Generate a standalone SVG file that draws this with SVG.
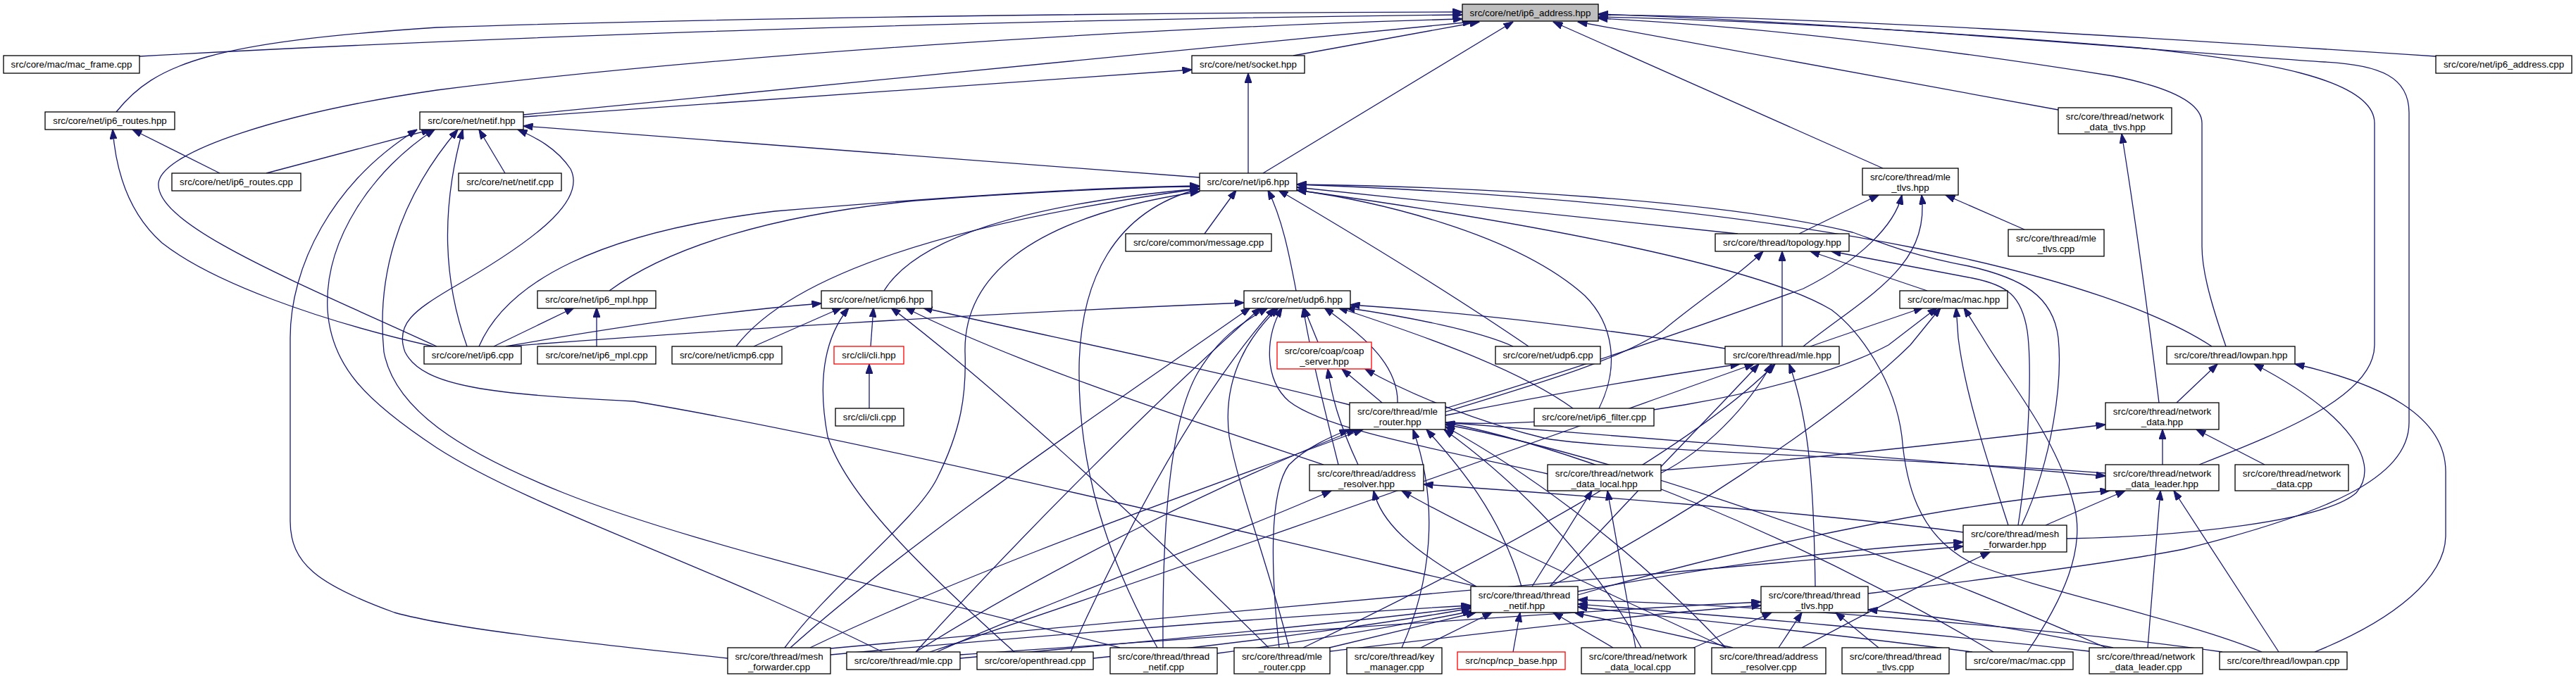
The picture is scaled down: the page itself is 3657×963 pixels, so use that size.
<svg xmlns="http://www.w3.org/2000/svg" width="3657" height="963" viewBox="0 0 3657 963">
<style>
.n rect{fill:#fff;stroke:#000;stroke-width:1.3}
.r rect{fill:#fff;stroke:#ff0000;stroke-width:1.3}
.root rect{fill:#bfbfbf;stroke:#000;stroke-width:1.3}
text{font-family:"Liberation Sans",Arial,Helvetica,sans-serif;font-size:13.33px;text-anchor:middle;fill:#000}
#edges path{fill:none;stroke:#191970;stroke-width:1.3;marker-end:url(#a)}
</style>
<defs>
<marker id="a" viewBox="0 0 14 10" refX="13.5" refY="5" markerWidth="14" markerHeight="10" orient="auto" markerUnits="userSpaceOnUse"><path d="M0,0 L14,5 L0,10 z" fill="#191970" stroke="#191970"/></marker>
</defs>
<rect width="3657" height="963" fill="#fff"/>
<g id="edges">
<path d="M198,80 C700,52 1400,28 2076,21"/>
<path d="M1836,79 L2100,31"/>
<path d="M3458,80 C3000,50 2600,25 2269,21"/>
<path d="M165,159 C220,90 300,60 620,39 C1000,26 1600,18 2076,17"/>
<path d="M743,163 L2090,31"/>
<path d="M1793,246 L2148,31"/>
<path d="M620,492 C420,400 220,320 225,260 C230,215 400,160 620,128 C1000,80 1600,40 2076,27"/>
<path d="M2922,156 L2240,31"/>
<path d="M2673,239 L2205,31"/>
<path d="M3160,492 C3135,420 3126,380 3126,350 L3126,175 C3126,140 3060,120 3000,108 C2700,60 2450,35 2269,26"/>
<path d="M3122,660 C3250,610 3371,560 3371,490 L3371,175 C3371,110 3200,85 3037,68 C2700,40 2450,28 2269,24"/>
<path d="M2652,843 C2800,825 3000,800 3100,780 C3300,730 3420,680 3420,600 L3420,160 C3420,110 3380,92 3300,88 C3100,75 2600,30 2269,20"/>
<path d="M743,166 L1692,99"/>
<path d="M1772,246 L1772,104"/>
<path d="M312,246 L188,184"/>
<path d="M615,492 C450,455 300,400 230,345 C185,305 165,250 160,184"/>
<path d="M378,246 L612,184"/>
<path d="M717,246 L680,184"/>
<path d="M1703,252 L743,179"/>
<path d="M663,492 C630,400 625,300 657,184"/>
<path d="M1033,935 C850,915 650,895 560,870 C450,830 412,800 412,740 L412,480 C412,380 470,260 592,184"/>
<path d="M1253,926 C1000,800 750,720 620,636 C520,570 470,520 465,440 C460,340 530,240 617,184"/>
<path d="M1590,920 C1400,870 1000,780 800,700 C650,640 560,580 545,500 C535,400 560,290 650,184"/>
<path d="M2096,833 C1700,740 1200,620 900,570 C700,560 600,550 575,500 C560,460 590,440 640,410 C780,330 830,280 810,240 C790,210 760,195 735,184"/>
<path d="M3065,572 C3050,450 3030,300 3012,190"/>
<path d="M1710,332 L1755,270"/>
<path d="M680,492 C720,400 850,330 1100,300 C1400,275 1600,265 1703,264"/>
<path d="M865,413 C950,350 1100,305 1300,285 C1500,270 1650,265 1703,265"/>
<path d="M1255,413 C1300,340 1450,290 1703,268"/>
<path d="M1045,492 C1100,420 1250,330 1703,268"/>
<path d="M1840,413 C1830,360 1820,310 1800,270"/>
<path d="M2170,492 C2050,410 1900,320 1815,270"/>
<path d="M1114,920 C1180,830 1300,740 1330,680 C1365,610 1372,560 1370,500 C1368,400 1450,310 1703,272"/>
<path d="M1643,920 C1570,790 1530,660 1532,520 C1534,400 1580,300 1703,268"/>
<path d="M2467,332 L1841,266"/>
<path d="M3140,492 C3000,400 2600,290 1841,262"/>
<path d="M2270,580 C2300,520 2290,460 2250,420 C2150,330 1950,285 1841,270"/>
<path d="M2870,746 C2915,650 2928,540 2922,480 C2915,420 2870,395 2795,378 C2700,360 2660,340 2630,330 C2450,285 2100,265 1841,262"/>
<path d="M3211,926 C3100,880 2900,840 2800,800 C2720,760 2705,680 2700,620 C2690,540 2640,470 2600,440 C2500,380 2200,320 1841,270"/>
<path d="M701,492 L815,437"/>
<path d="M847,492 L847,437"/>
<path d="M718,492 C900,460 1050,440 1166,431"/>
<path d="M1070,492 L1195,437"/>
<path d="M1236,492 L1240,437"/>
<path d="M1440,926 C1300,800 1200,700 1175,620 C1160,540 1170,480 1205,437"/>
<path d="M1801,920 C1600,720 1400,540 1265,437"/>
<path d="M1879,660 C1700,600 1450,520 1285,437"/>
<path d="M1916,575 C1700,520 1450,470 1310,437"/>
<path d="M720,492 C1000,470 1400,445 1766,430"/>
<path d="M1871,486 L1851,437"/>
<path d="M1984,572 C1985,520 1940,480 1880,437"/>
<path d="M2148,492 C2100,470 2000,450 1910,437"/>
<path d="M2233,580 C2150,520 2000,470 1900,437"/>
<path d="M2449,495 C2300,470 2100,445 1917,433"/>
<path d="M2197,673 C2050,640 1880,610 1830,570 C1795,540 1795,480 1820,437"/>
<path d="M1122,920 C1300,760 1600,560 1775,437"/>
<path d="M1300,926 C1450,760 1650,560 1790,437"/>
<path d="M1651,920 C1650,750 1660,600 1700,530 C1730,480 1760,460 1800,437"/>
<path d="M1520,926 C1600,750 1700,560 1810,437"/>
<path d="M1830,920 C1800,800 1760,700 1745,620 C1735,540 1770,480 1815,437"/>
<path d="M1900,660 C1880,580 1860,500 1850,437"/>
<path d="M1962,572 L1905,524"/>
<path d="M1928,660 C1900,600 1890,560 1885,524"/>
<path d="M2989,672 C2700,650 2300,640 2195,623 C2100,600 2000,560 1938,524"/>
<path d="M1234,580 L1234,517"/>
<path d="M2554,332 L2667,277"/>
<path d="M2874,326 L2762,277"/>
<path d="M2560,492 C2650,420 2740,380 2728,277"/>
<path d="M2052,580 C2250,520 2450,450 2560,410 C2640,370 2690,320 2700,277"/>
<path d="M2530,492 L2530,357"/>
<path d="M2736,413 L2570,357"/>
<path d="M2865,746 C2880,650 2885,520 2878,470 C2870,420 2850,405 2800,395 L2600,357"/>
<path d="M2052,585 C2200,540 2300,510 2360,470 C2420,420 2470,390 2503,357"/>
<path d="M2570,492 L2730,437"/>
<path d="M2851,746 C2820,650 2790,560 2780,480 L2777,437"/>
<path d="M2878,926 C2930,850 2960,780 2945,720 C2920,620 2850,540 2815,480 L2788,437"/>
<path d="M2200,833 C2350,760 2600,600 2712,490 L2755,437"/>
<path d="M2052,600 C2250,610 2550,560 2681,490 L2750,437"/>
<path d="M2052,590 C2200,560 2350,535 2470,517"/>
<path d="M1320,926 C1700,800 2200,620 2490,517"/>
<path d="M2200,833 C2300,720 2420,600 2497,517"/>
<path d="M2358,672 C2420,640 2480,580 2515,517"/>
<path d="M2577,833 C2575,700 2570,600 2540,517"/>
<path d="M1850,920 C2100,800 2400,640 2520,517"/>
<path d="M3090,572 L3148,517"/>
<path d="M2934,765 C3100,762 3300,740 3345,700 C3380,660 3340,590 3200,517"/>
<path d="M3286,926 C3400,880 3472,820 3472,760 L3472,670 C3472,590 3380,545 3258,517"/>
<path d="M3070,660 L3070,610"/>
<path d="M3215,660 L3118,610"/>
<path d="M2358,668 C2600,650 2850,620 2989,603"/>
<path d="M2096,833 C2000,780 1960,740 1950,697"/>
<path d="M2450,920 C2300,850 2100,760 1990,697"/>
<path d="M2787,756 C2600,730 2200,700 2021,688"/>
<path d="M1330,926 C1500,850 1750,760 1890,697"/>
<path d="M2175,833 L2260,697"/>
<path d="M2322,920 L2282,697"/>
<path d="M3049,920 L3067,697"/>
<path d="M3235,926 L3086,697"/>
<path d="M2904,746 L3017,697"/>
<path d="M2052,600 C2300,620 2700,650 2989,676"/>
<path d="M2240,845 C2500,770 2800,710 2995,697"/>
<path d="M2240,840 C2400,810 2600,780 2787,770"/>
<path d="M1179,921 C1600,880 2300,820 2787,776"/>
<path d="M2558,920 C2650,870 2750,820 2825,784"/>
<path d="M1179,930 C1500,900 1900,870 2088,860"/>
<path d="M1363,935 C1700,905 1950,880 2088,862"/>
<path d="M1552,935 C1800,910 2000,880 2088,864"/>
<path d="M1728,928 C1900,905 2030,880 2090,868"/>
<path d="M1887,920 L2095,870"/>
<path d="M2017,920 L2118,870"/>
<path d="M2148,926 L2158,870"/>
<path d="M2290,920 L2205,870"/>
<path d="M2460,920 L2235,870"/>
<path d="M2800,926 C2600,900 2400,880 2240,862"/>
<path d="M2966,925 C2700,895 2450,875 2240,858"/>
<path d="M3155,926 C2900,890 2500,860 2240,852"/>
<path d="M2525,920 L2558,870"/>
<path d="M2667,920 L2606,870"/>
<path d="M1888,925 C2100,900 2350,870 2500,860"/>
<path d="M1363,930 C1800,900 2200,870 2500,855"/>
<path d="M3000,920 C2850,890 2750,875 2652,866"/>
<path d="M2400,922 L2515,870"/>
<path d="M1300,926 C1500,800 1750,680 1925,610"/>
<path d="M1150,920 C1400,800 1750,680 1935,610"/>
<path d="M1816,920 C1805,820 1800,700 1830,660 C1855,635 1890,620 1915,610"/>
<path d="M1990,920 C2030,830 2045,720 2006,610"/>
<path d="M2160,833 C2130,730 2070,660 2025,610"/>
<path d="M2450,920 C2300,760 2150,660 2052,606"/>
<path d="M2990,920 C2600,750 2250,640 2052,603"/>
<path d="M2330,920 C2250,770 2120,660 2050,610"/>
<path d="M2830,926 C2550,760 2250,640 2052,600"/>
</g>
<g id="n_ip6_address_hpp" class="root"><rect x="2076" y="6" width="193" height="24"/><text x="2172.5" y="23">src/core/net/ip6_address.hpp</text></g>
<g id="n_mac_frame_cpp" class="n"><rect x="5" y="79" width="193" height="25"/><text x="101.5" y="96">src/core/mac/mac_frame.cpp</text></g>
<g id="n_socket_hpp" class="n"><rect x="1692" y="79" width="160" height="25"/><text x="1772" y="96">src/core/net/socket.hpp</text></g>
<g id="n_ip6_address_cpp" class="n"><rect x="3458" y="79" width="193" height="25"/><text x="3554.5" y="96">src/core/net/ip6_address.cpp</text></g>
<g id="n_ip6_routes_hpp" class="n"><rect x="64" y="159" width="184" height="25"/><text x="156" y="176">src/core/net/ip6_routes.hpp</text></g>
<g id="n_netif_hpp" class="n"><rect x="596" y="159" width="147" height="25"/><text x="669.5" y="176">src/core/net/netif.hpp</text></g>
<g id="n_network_data_tlvs_hpp" class="n"><rect x="2922" y="153" width="161" height="37"/><text x="3002.5" y="170">src/core/thread/network</text><text x="3002.5" y="185">_data_tlvs.hpp</text></g>
<g id="n_ip6_routes_cpp" class="n"><rect x="244" y="246" width="183" height="25"/><text x="335.5" y="263">src/core/net/ip6_routes.cpp</text></g>
<g id="n_netif_cpp" class="n"><rect x="651" y="246" width="146" height="25"/><text x="724" y="263">src/core/net/netif.cpp</text></g>
<g id="n_ip6_hpp" class="n"><rect x="1703" y="246" width="138" height="25"/><text x="1772" y="263">src/core/net/ip6.hpp</text></g>
<g id="n_mle_tlvs_hpp" class="n"><rect x="2644" y="239" width="136" height="38"/><text x="2712" y="256">src/core/thread/mle</text><text x="2712" y="271">_tlvs.hpp</text></g>
<g id="n_message_cpp" class="n"><rect x="1598" y="332" width="207" height="25"/><text x="1701.5" y="349">src/core/common/message.cpp</text></g>
<g id="n_topology_hpp" class="n"><rect x="2435" y="332" width="190" height="25"/><text x="2530" y="349">src/core/thread/topology.hpp</text></g>
<g id="n_mle_tlvs_cpp" class="n"><rect x="2851" y="326" width="136" height="38"/><text x="2919" y="343">src/core/thread/mle</text><text x="2919" y="358">_tlvs.cpp</text></g>
<g id="n_ip6_mpl_hpp" class="n"><rect x="763" y="413" width="168" height="25"/><text x="847" y="430">src/core/net/ip6_mpl.hpp</text></g>
<g id="n_icmp6_hpp" class="n"><rect x="1166" y="413" width="157" height="25"/><text x="1244.5" y="430">src/core/net/icmp6.hpp</text></g>
<g id="n_udp6_hpp" class="n"><rect x="1766" y="413" width="151" height="25"/><text x="1841.5" y="430">src/core/net/udp6.hpp</text></g>
<g id="n_mac_hpp" class="n"><rect x="2697" y="413" width="153" height="25"/><text x="2773.5" y="430">src/core/mac/mac.hpp</text></g>
<g id="n_ip6_cpp" class="n"><rect x="602" y="492" width="138" height="25"/><text x="671" y="509">src/core/net/ip6.cpp</text></g>
<g id="n_ip6_mpl_cpp" class="n"><rect x="763" y="492" width="168" height="25"/><text x="847" y="509">src/core/net/ip6_mpl.cpp</text></g>
<g id="n_icmp6_cpp" class="n"><rect x="954" y="492" width="156" height="25"/><text x="1032" y="509">src/core/net/icmp6.cpp</text></g>
<g id="n_cli_hpp" class="r"><rect x="1184" y="492" width="99" height="25"/><text x="1233.5" y="509">src/cli/cli.hpp</text></g>
<g id="n_coap_server_hpp" class="r"><rect x="1813" y="486" width="134" height="38"/><text x="1880" y="503">src/core/coap/coap</text><text x="1880" y="518">_server.hpp</text></g>
<g id="n_udp6_cpp" class="n"><rect x="2123" y="492" width="149" height="25"/><text x="2197.5" y="509">src/core/net/udp6.cpp</text></g>
<g id="n_mle_hpp" class="n"><rect x="2449" y="492" width="162" height="25"/><text x="2530" y="509">src/core/thread/mle.hpp</text></g>
<g id="n_lowpan_hpp" class="n"><rect x="3076" y="492" width="182" height="25"/><text x="3167" y="509">src/core/thread/lowpan.hpp</text></g>
<g id="n_cli_cpp" class="n"><rect x="1186" y="580" width="97" height="25"/><text x="1234.5" y="597">src/cli/cli.cpp</text></g>
<g id="n_mle_router_hpp" class="n"><rect x="1916" y="572" width="136" height="38"/><text x="1984" y="589">src/core/thread/mle</text><text x="1984" y="604">_router.hpp</text></g>
<g id="n_ip6_filter_cpp" class="n"><rect x="2178" y="580" width="170" height="25"/><text x="2263" y="597">src/core/net/ip6_filter.cpp</text></g>
<g id="n_network_data_hpp" class="n"><rect x="2989" y="572" width="161" height="38"/><text x="3069.5" y="589">src/core/thread/network</text><text x="3069.5" y="604">_data.hpp</text></g>
<g id="n_address_resolver_hpp" class="n"><rect x="1859" y="660" width="162" height="37"/><text x="1940" y="677">src/core/thread/address</text><text x="1940" y="692">_resolver.hpp</text></g>
<g id="n_network_data_local_hpp" class="n"><rect x="2197" y="660" width="161" height="37"/><text x="2277.5" y="677">src/core/thread/network</text><text x="2277.5" y="692">_data_local.hpp</text></g>
<g id="n_network_data_leader_hpp" class="n"><rect x="2989" y="660" width="161" height="37"/><text x="3069.5" y="677">src/core/thread/network</text><text x="3069.5" y="692">_data_leader.hpp</text></g>
<g id="n_network_data_cpp" class="n"><rect x="3173" y="660" width="161" height="37"/><text x="3253.5" y="677">src/core/thread/network</text><text x="3253.5" y="692">_data.cpp</text></g>
<g id="n_mesh_forwarder_hpp" class="n"><rect x="2787" y="746" width="147" height="38"/><text x="2860.5" y="763">src/core/thread/mesh</text><text x="2860.5" y="778">_forwarder.hpp</text></g>
<g id="n_thread_netif_hpp" class="n"><rect x="2088" y="833" width="152" height="37"/><text x="2164" y="850">src/core/thread/thread</text><text x="2164" y="865">_netif.hpp</text></g>
<g id="n_thread_tlvs_hpp" class="n"><rect x="2500" y="833" width="152" height="37"/><text x="2576" y="850">src/core/thread/thread</text><text x="2576" y="865">_tlvs.hpp</text></g>
<g id="n_mesh_forwarder_cpp" class="n"><rect x="1033" y="920" width="146" height="37"/><text x="1106" y="937">src/core/thread/mesh</text><text x="1106" y="952">_forwarder.cpp</text></g>
<g id="n_mle_cpp" class="n"><rect x="1202" y="926" width="161" height="25"/><text x="1282.5" y="943">src/core/thread/mle.cpp</text></g>
<g id="n_openthread_cpp" class="n"><rect x="1387" y="926" width="165" height="25"/><text x="1469.5" y="943">src/core/openthread.cpp</text></g>
<g id="n_thread_netif_cpp" class="n"><rect x="1576" y="920" width="152" height="37"/><text x="1652" y="937">src/core/thread/thread</text><text x="1652" y="952">_netif.cpp</text></g>
<g id="n_mle_router_cpp" class="n"><rect x="1752" y="920" width="136" height="37"/><text x="1820" y="937">src/core/thread/mle</text><text x="1820" y="952">_router.cpp</text></g>
<g id="n_key_manager_cpp" class="n"><rect x="1912" y="920" width="135" height="37"/><text x="1979.5" y="937">src/core/thread/key</text><text x="1979.5" y="952">_manager.cpp</text></g>
<g id="n_ncp_base_hpp" class="r"><rect x="2069" y="926" width="153" height="25"/><text x="2145.5" y="943">src/ncp/ncp_base.hpp</text></g>
<g id="n_network_data_local_cpp" class="n"><rect x="2245" y="920" width="161" height="37"/><text x="2325.5" y="937">src/core/thread/network</text><text x="2325.5" y="952">_data_local.cpp</text></g>
<g id="n_address_resolver_cpp" class="n"><rect x="2430" y="920" width="162" height="37"/><text x="2511" y="937">src/core/thread/address</text><text x="2511" y="952">_resolver.cpp</text></g>
<g id="n_thread_tlvs_cpp" class="n"><rect x="2615" y="920" width="152" height="37"/><text x="2691" y="937">src/core/thread/thread</text><text x="2691" y="952">_tlvs.cpp</text></g>
<g id="n_mac_cpp" class="n"><rect x="2791" y="926" width="152" height="25"/><text x="2867" y="943">src/core/mac/mac.cpp</text></g>
<g id="n_network_data_leader_cpp" class="n"><rect x="2966" y="920" width="161" height="37"/><text x="3046.5" y="937">src/core/thread/network</text><text x="3046.5" y="952">_data_leader.cpp</text></g>
<g id="n_lowpan_cpp" class="n"><rect x="3151" y="926" width="181" height="25"/><text x="3241.5" y="943">src/core/thread/lowpan.cpp</text></g>
</svg>
